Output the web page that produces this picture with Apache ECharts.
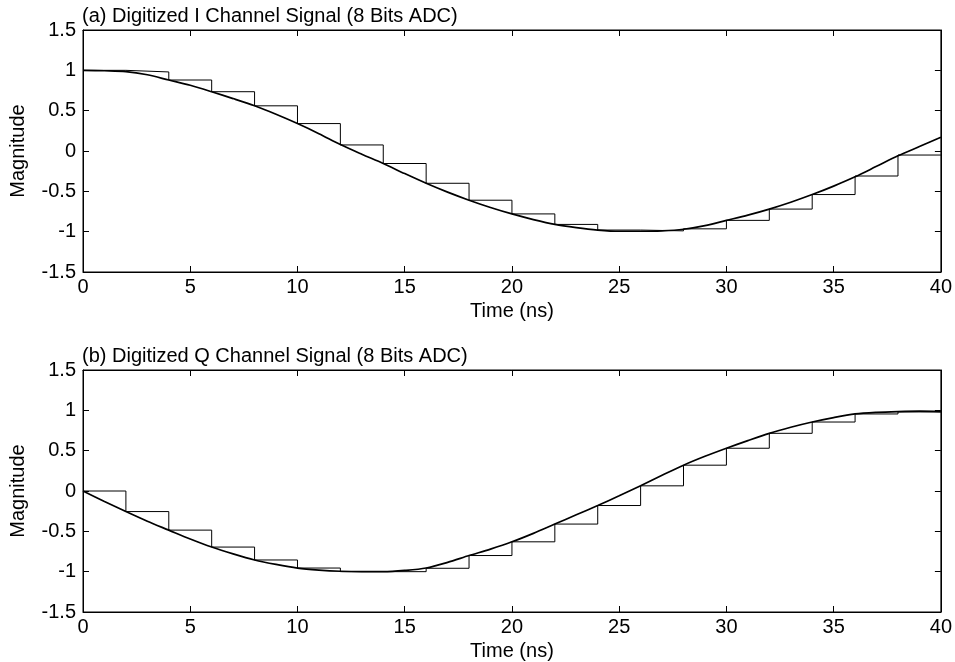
<!DOCTYPE html>
<html>
<head>
<meta charset="utf-8">
<script src="https://cdn.jsdelivr.net/npm/echarts@6/dist/echarts.min.js"></script>
<style>
html,body{margin:0;padding:0;background:#fff;}
#chart{width:955px;height:662px;}
</style>
</head>
<body>
<div id="chart"></div>
<script>
// Instants (ns) where the analog curves are read
const curveTimes = [0,1,2,3,4,5,6,7,8,9,10,11,12,13,14,15,16,17,18,19,20,21,22,23,24,25,26,27,28,29,30,31,32,33,34,35,36,37,38,39,40];
// Analog I channel (smooth curve)
const iAnalog = [1.00,0.995,0.985,0.945,0.88,0.815,0.735,0.65,0.56,0.455,0.34,0.215,0.08,-0.04,-0.155,-0.28,-0.40,-0.51,-0.61,-0.70,-0.78,-0.85,-0.91,-0.95,-0.98,-0.995,-0.995,-0.99,-0.97,-0.925,-0.86,-0.795,-0.72,-0.635,-0.54,-0.435,-0.32,-0.19,-0.06,0.055,0.17];
// Digitized I channel, value held over each 2 ns interval starting at holdTimes
const holdTimes = [0,2,4,6,8,10,12,14,16,18,20,22,24,26,28,30,32,34,36,38];
const iHeld = [1.00,0.98,0.88,0.735,0.56,0.34,0.075,-0.155,-0.40,-0.61,-0.78,-0.91,-0.98,-0.99,-0.965,-0.86,-0.72,-0.54,-0.31,-0.05];
// Analog Q channel
const qAnalog = [0.0,-0.13,-0.255,-0.375,-0.485,-0.595,-0.695,-0.78,-0.855,-0.91,-0.955,-0.98,-0.995,-1.0,-1.0,-0.985,-0.955,-0.885,-0.80,-0.72,-0.63,-0.525,-0.41,-0.295,-0.18,-0.06,0.065,0.195,0.32,0.43,0.53,0.625,0.715,0.79,0.855,0.91,0.955,0.975,0.985,0.99,0.985];
// Digitized Q channel
const qHeld = [0.0,-0.255,-0.485,-0.695,-0.855,-0.955,-1.0,-1.0,-0.958,-0.80,-0.63,-0.41,-0.18,0.064,0.32,0.53,0.715,0.855,0.955,0.98];
const endTime = 40;
const xTicks = {min:0, max:40, interval:5};
const yTicks = {min:-1.5, max:1.5, interval:0.5};
const titles = ['(a) Digitized I Channel Signal (8 Bits ADC)','(b) Digitized Q Channel Signal (8 Bits ADC)'];
const xName = 'Time (ns)';
const yName = 'Magnitude';

const FONT = '"Liberation Sans", Arial, Helvetica, sans-serif';
const FS = 20;
const black = '#000';

function pairs(xs, ys){ return xs.map((x,i)=>[x, ys[i]]); }
function heldPairs(xs, ys){ const p = pairs(xs, ys); p.push([endTime, ys[ys.length-1]]); return p; }

const grids = [
  {left:83, right:10, top:30, height:242, show:true, borderColor:black, borderWidth:1, backgroundColor:'transparent'},
  {left:83, right:10, top:370, height:242, show:true, borderColor:black, borderWidth:1, backgroundColor:'transparent'}
];

const xAxes = [], yAxes = [];
[0,1].forEach(g=>{
  xAxes.push({
    gridIndex:g, type:'value', min:xTicks.min, max:xTicks.max, interval:xTicks.interval, position:'bottom',
    axisLine:{show:true, onZero:false, lineStyle:{color:black, width:1}},
    axisTick:{show:true, inside:true, length:6, lineStyle:{color:black, width:1}},
    axisLabel:{color:black, fontSize:FS, fontFamily:FONT, margin:5},
    splitLine:{show:false},
    name:xName, nameLocation:'middle', nameGap:29,
    nameTextStyle:{color:black, fontSize:FS, fontFamily:FONT}
  });
  xAxes.push({
    gridIndex:g, type:'value', min:xTicks.min, max:xTicks.max, interval:xTicks.interval, position:'top',
    axisLine:{show:true, onZero:false, lineStyle:{color:black, width:1}},
    axisTick:{show:true, inside:true, length:6, lineStyle:{color:black, width:1}},
    axisLabel:{show:false}, splitLine:{show:false}
  });
  yAxes.push({
    gridIndex:g, type:'value', min:yTicks.min, max:yTicks.max, interval:yTicks.interval, position:'left',
    axisLine:{show:true, onZero:false, lineStyle:{color:black, width:1}},
    axisTick:{show:true, inside:true, length:6, lineStyle:{color:black, width:1}},
    axisLabel:{color:black, fontSize:FS, fontFamily:FONT, margin:7},
    splitLine:{show:false},
    name:yName, nameLocation:'middle', nameGap:55, nameRotate:90,
    nameTextStyle:{color:black, fontSize:FS, fontFamily:FONT}
  });
  yAxes.push({
    gridIndex:g, type:'value', min:yTicks.min, max:yTicks.max, interval:yTicks.interval, position:'right',
    axisLine:{show:true, onZero:false, lineStyle:{color:black, width:1}},
    axisTick:{show:true, inside:true, length:6, lineStyle:{color:black, width:1}},
    axisLabel:{show:false}, splitLine:{show:false}
  });
});

const series = [
  {type:'line', xAxisIndex:0, yAxisIndex:0, data:pairs(curveTimes, iAnalog), smooth:0.3, showSymbol:false, lineStyle:{color:black, width:1.7}},
  {type:'line', xAxisIndex:0, yAxisIndex:0, data:heldPairs(holdTimes, iHeld), step:'end', showSymbol:false, lineStyle:{color:black, width:1}},
  {type:'line', xAxisIndex:2, yAxisIndex:2, data:pairs(curveTimes, qAnalog), smooth:0.3, showSymbol:false, lineStyle:{color:black, width:1.7}},
  {type:'line', xAxisIndex:2, yAxisIndex:2, data:heldPairs(holdTimes, qHeld), step:'end', showSymbol:false, lineStyle:{color:black, width:1}}
];

const chart = echarts.init(document.getElementById('chart'), null, {renderer:'canvas'});
chart.setOption({
  backgroundColor:'#fff',
  animation:false,
  title:[
    {text:titles[0], left:82, top:6, padding:0, textStyle:{color:black, fontSize:FS, fontWeight:'normal', fontFamily:FONT}},
    {text:titles[1], left:82, top:346, padding:0, textStyle:{color:black, fontSize:FS, fontWeight:'normal', fontFamily:FONT}}
  ],
  grid:grids,
  xAxis:xAxes,
  yAxis:yAxes,
  series:series
});
</script>
</body>
</html>
